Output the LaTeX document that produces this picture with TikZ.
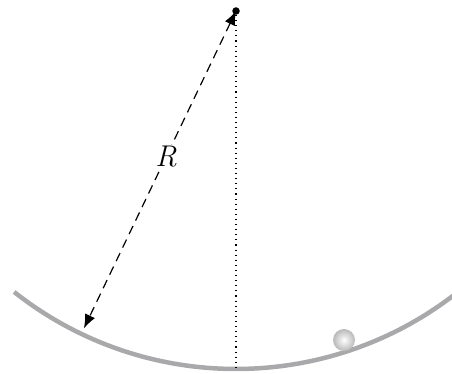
\documentclass[tikz,border=0pt]{standalone}
\usepackage{tikz}
\usetikzlibrary{arrows.meta,shadings}
\definecolor{trackgray}{HTML}{A9A9AB}

\begin{document}
\begin{tikzpicture}[x=1pt,y=1pt,>=Latex]

\tikzset{
pivot/.style={
    circle,
    fill=black,
    inner sep=0pt,
    minimum size=7.5pt
},
track/.style={
    line width=4.5pt,
    draw=trackgray
},
radius line/.style={<->,dashed,dash pattern=on 9pt off 6pt,line width=1.2pt,
    >={Latex[length=14pt,width=11pt]}},
plumb/.style={line width=1.1pt,dash pattern=on 1.1pt off 4pt},
bead/.style={
    circle,
    inner sep=0pt,
    minimum size=22pt,
    inner color=white,
    outer color=gray!55
}
}

\clip (0,0) rectangle (452,374);

\node[pivot] (centre) at (236,363) {};
\coordinate (rim) at ([shift={(244.4:352)}]centre.center);
\coordinate (bottom) at ([shift={(0,-358)}]centre.center);

% the bowl
\draw[track] ([shift={(231.7:358)}]centre.center)
    arc[start angle=231.7,end angle=312,radius=358];

\draw[plumb] (centre) -- (bottom);

\draw[radius line] (centre.center) -- node[pos=0.46,fill=white,inner sep=1pt,font=\fontsize{30}{36}\selectfont\itshape]{R} (rim);

\node[bead] (ball) at (344,34) {};

\end{tikzpicture}
\end{document}
